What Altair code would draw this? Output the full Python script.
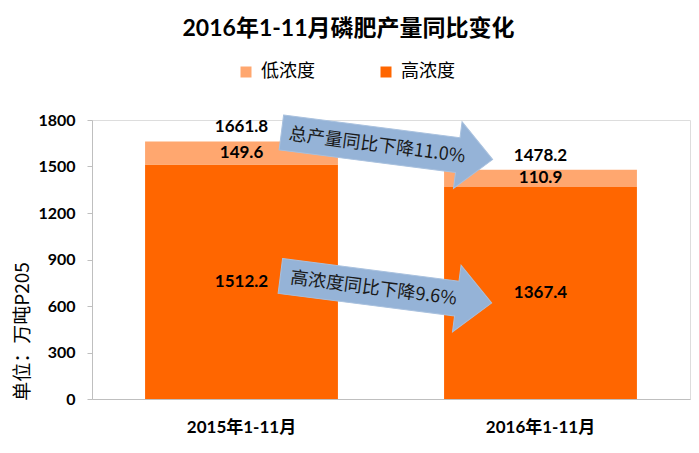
import altair as alt
import pandas as pd

# Phosphate fertiliser output, Jan–Nov, in 10k tonnes P2O5
periods = ["2015年1-11月", "2016年1-11月"]
high_grade = [1512.2, 1367.4]
low_grade = [149.6, 110.9]
totals = [1661.8, 1478.2]
grades = ["低浓度", "高浓度"]
grade_colors = ["#FFA76F", "#FF6600"]
y_ticks = [0, 300, 600, 900, 1200, 1500, 1800]
notes = ["总产量同比下降11.0%", "高浓度同比下降9.6%"]
chart_title = "2016年1-11月磷肥产量同比变化"
y_title = "单位：万吨P205"

LATIN = "Lato, 'Noto Sans CJK SC'"
CJK = "'Noto Sans CJK SC'"

rows = []
for p, h, l in zip(periods, high_grade, low_grade):
    rows.append({"period": p, "grade": "高浓度", "value": h, "order": 0})
    rows.append({"period": p, "grade": "低浓度", "value": l, "order": 1})
df = pd.DataFrame(rows)
total_df = pd.DataFrame({"period": periods, "total": totals})

x_enc = alt.X(
    "period:N",
    sort=periods,
    scale=alt.Scale(paddingInner=0.355, paddingOuter=0.1775),
    axis=alt.Axis(
        title=None, labelAngle=0, ticks=False, labelPadding=20,
        labelFont=LATIN, labelFontSize=17, labelFontWeight="bold",
        labelColor="#000000", domainColor="#BFBFBF", domainWidth=1,
    ),
)
y_scale = alt.Scale(domain=[0, 1800], nice=False)

base = alt.Chart(df).transform_stack(
    stack="value", groupby=["period"], as_=["y0", "y1"],
    sort=[alt.SortField("order", order="ascending")],
).transform_calculate(mid="(datum.y0 + datum.y1) / 2")

bars = base.mark_bar().encode(
    x=x_enc,
    y=alt.Y(
        "y0:Q", scale=y_scale,
        axis=alt.Axis(
            values=y_ticks, format="d", grid=False, tickSize=5, labelPadding=12,
            labelFont=LATIN, labelFontSize=16, labelFontWeight="bold",
            labelColor="#000000", domainColor="#BFBFBF", tickColor="#BFBFBF",
            title=y_title, titleFont=CJK, titleFontSize=19,
            titleFontWeight="normal", titleColor="#000000",
            titleX=-70, titleY=211, titleAngle=-90,
            titleAlign="center", titleBaseline="middle",
        ),
    ),
    y2="y1:Q",
    color=alt.Color(
        "grade:N",
        scale=alt.Scale(domain=grades, range=grade_colors),
        legend=alt.Legend(
            title=None, orient="none", direction="horizontal",
            legendX=145, legendY=-57, symbolType="square", symbolSize=121,
            symbolStrokeWidth=0, labelFont=CJK, labelFontSize=18,
            labelColor="#000000", labelOffset=6, columnPadding=62,
        ),
    ),
)

seg_labels = base.mark_text(
    font=LATIN, fontSize=17, fontWeight="bold", color="#000000", baseline="middle"
).encode(
    x=alt.X("period:N", sort=periods),
    y=alt.Y("mid:Q", scale=y_scale),
    text=alt.Text("value:Q", format=".1f"),
)

total_labels = alt.Chart(total_df).mark_text(
    font=LATIN, fontSize=17, fontWeight="bold", color="#000000",
    baseline="middle", dy=-14,
).encode(
    x=alt.X("period:N", sort=periods),
    y=alt.Y("total:Q", scale=y_scale),
    text=alt.Text("total:Q", format=".1f"),
)

# Block arrows carrying the year-on-year notes
arrow_path = "M -1 -0.165 L 0.67 -0.165 L 0.67 -0.316 L 1 0 L 0.67 0.316 L 0.67 0.165 L -1 0.165 Z"
arrow_df = pd.DataFrame({"note": notes, "ax": [295, 294], "ay": [26, 169.5],
                         "tx": [285, 281.5], "ty": [26, 169]})

arrows = alt.Chart(arrow_df).mark_point(
    shape=arrow_path, filled=True, fill="#95B3D7", opacity=1,
    stroke="#A9C1DE", strokeWidth=1, size=213 * 213, angle=7.3,
).encode(
    x=alt.X("ax:Q", scale=None),
    y=alt.Y("ay:Q", scale=None),
)

arrow_text = alt.Chart(arrow_df).mark_text(
    font=CJK, fontSize=18, color="#1A1A1A", angle=7.4,
    align="center", baseline="middle",
).encode(
    x=alt.X("tx:Q", scale=None),
    y=alt.Y("ty:Q", scale=None),
    text="note:N",
)

title_text = alt.Chart(pd.DataFrame({"t": [chart_title]})).mark_text(
    font=LATIN, fontSize=23, fontWeight="bold", color="#000000",
    align="center", baseline="middle",
).encode(
    x=alt.value(256.5),
    y=alt.value(-91),
    text="t:N",
)

chart = alt.layer(
    bars, seg_labels, total_labels, arrows, arrow_text, title_text
).properties(
    width=598, height=279,
    autosize=alt.AutoSizeParams(type="none"),
    padding={"left": 92, "top": 120, "right": 9, "bottom": 54},
).configure_view(stroke=None).configure(background="#FFFFFF")

chart.save("out.html", embed_options={"renderer": "svg", "actions": False})
